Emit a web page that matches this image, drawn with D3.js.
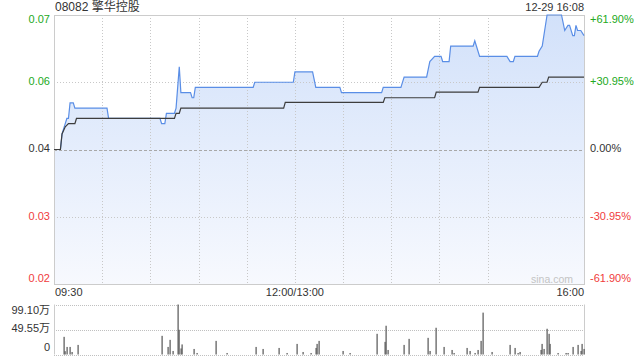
<!DOCTYPE html>
<html>
<head>
<meta charset="utf-8">
<script src="https://cdn.jsdelivr.net/npm/d3@7"></script>
<style>
  body { margin: 0; background: #fff; }
  svg { display: block; font-family: "Liberation Sans", Arial, "Noto Sans CJK SC", sans-serif; }
</style>
</head>
<body>
<svg id="chart" width="640" height="360"></svg>
<script>
const title = '08082 擎华控股';
const stamp = '12-29 16:08';
const prevClose = 0.042;
const pctLevels = [0.619, 0.3095, 0, -0.3095, -0.619];
const leftLabels = ['0.07', '0.06', '0.04', '0.03', '0.02'];
const rightLabels = ['+61.90%', '+30.95%', '0.00%', '-30.95%', '-61.90%'];
const timeLabels = ['09:30', '12:00/13:00', '16:00'];
const gridTimes = ['10:00', '10:30', '11:00', '11:30', '12:00', '13:30', '14:00', '14:30', '15:00'];
const volMax = 991000;
const volLevels = [991000, 495500, 0];
const volLabels = ['99.10万', '49.55万', '0'];

const priceTimes = ['09:30', '09:34', '09:35', '09:37', '09:38', '09:39', '09:40', '09:42', '09:43', '10:03',
  '10:04', '10:36', '10:37', '10:39', '10:40', '10:45', '10:46', '10:48', '10:49', '10:55',
  '10:56', '10:57', '10:58', '11:34', '11:35', '11:59', '12:00', '13:11', '13:13', '13:28',
  '13:29', '13:54', '13:55', '14:06', '14:08', '14:22', '14:24', '14:27', '14:31', '14:32',
  '14:36', '14:37', '14:51', '14:52', '14:53', '14:55', '15:12', '15:14', '15:16', '15:17',
  '15:31', '15:32', '15:34', '15:37', '15:46', '15:48', '15:50', '15:51', '15:53', '15:54',
  '15:55', '15:56', '15:58', '16:00'];
const priceValues = [0.042, 0.042, 0.045, 0.047, 0.048, 0.048, 0.051, 0.051, 0.050, 0.050,
  0.048, 0.048, 0.047, 0.047, 0.049, 0.049, 0.050, 0.058, 0.053, 0.053,
  0.052, 0.052, 0.054, 0.054, 0.055, 0.055, 0.057, 0.057, 0.054, 0.054,
  0.053, 0.053, 0.054, 0.054, 0.056, 0.056, 0.059, 0.060, 0.060, 0.059,
  0.059, 0.062, 0.062, 0.063, 0.062, 0.060, 0.060, 0.059, 0.059, 0.060,
  0.060, 0.061, 0.062, 0.068, 0.068, 0.065, 0.066, 0.066, 0.064, 0.064,
  0.066, 0.065, 0.065, 0.064];

const avgTimes = ['09:30', '09:34', '09:35', '09:37', '09:39', '09:43', '09:44', '10:45', '10:46', '10:48',
  '10:49', '11:53', '11:54', '13:55', '13:56', '14:27', '14:28', '14:54', '14:55', '15:32',
  '15:34', '15:37', '15:38', '16:00'];
const avgValues = [0.042, 0.042, 0.045, 0.0464, 0.047, 0.047, 0.048, 0.048, 0.049, 0.049,
  0.050, 0.050, 0.0511, 0.0511, 0.052, 0.052, 0.0531, 0.0531, 0.054, 0.054,
  0.055, 0.055, 0.056, 0.056];

const volTimes = ['09:36', '09:37', '09:38', '09:40', '09:41', '09:45', '10:37', '10:41', '10:42', '10:44',
  '10:47', '10:48', '10:49', '10:50', '10:57', '10:59', '11:11', '11:18', '11:36', '11:40',
  '11:50', '11:55', '13:01', '13:05', '13:10', '13:13', '13:14', '13:15', '13:30', '13:34',
  '13:51', '13:56', '13:57', '13:58', '14:08', '14:11', '14:23', '14:24', '14:28', '14:33',
  '14:38', '14:39', '14:47', '14:49', '14:52', '14:54', '14:56', '14:57', '15:03', '15:14',
  '15:17', '15:19', '15:20', '15:33', '15:34', '15:35', '15:37', '15:38', '15:39', '15:44',
  '15:49', '15:50', '15:53', '15:56', '15:58', '15:59', '16:00'];
const volValues = [350000, 66000, 150000, 150000, 50000, 190000, 370000, 150000, 290000, 70000,
  991000, 490000, 120000, 200000, 110000, 30000, 270000, 30000, 150000, 110000,
  130000, 30000, 210000, 50000, 30000, 130000, 210000, 270000, 70000, 30000,
  410000, 250000, 570000, 90000, 190000, 310000, 330000, 70000, 530000, 150000,
  90000, 30000, 130000, 70000, 30000, 90000, 270000, 830000, 50000, 190000,
  130000, 30000, 50000, 90000, 210000, 110000, 510000, 410000, 210000, 30000,
  30000, 30000, 150000, 190000, 70000, 210000, 110000];

const green = '#22a922', red = '#f03c3c', textColor = '#333';

// trading minutes since 09:30, lunch break removed
function minuteIndex(t) {
  const [h, m] = t.split(':').map(Number);
  const mins = h * 60 + m;
  return mins <= 720 ? mins - 570 : mins - 780 + 150;
}

const pLeft = 54, pRight = 584, pTop = 15, pBottom = 284;
const volTop = 304.5, volBottom = 354.5;

const x = d3.scaleLinear().domain([0, 330]).range([pLeft, pRight]);
const y = d3.scaleLinear()
  .domain([prevClose * (1 - pctLevels[0]), prevClose * (1 + pctLevels[0])])
  .range([pBottom, pTop]);
const yVol = d3.scaleLinear().domain([0, volMax]).range([volBottom, volTop]);

const svg = d3.select('#chart');

const grad = svg.append('defs').append('linearGradient')
  .attr('id', 'fill')
  .attr('gradientUnits', 'userSpaceOnUse')
  .attr('x1', 0).attr('y1', pTop).attr('x2', 0).attr('y2', pBottom);
grad.append('stop').attr('offset', 0).attr('stop-color', '#d2e1fa');
grad.append('stop').attr('offset', 1).attr('stop-color', '#f7f9fe');

const price = priceTimes.map((t, i) => ({ i: minuteIndex(t), v: priceValues[i] }));
const avg = avgTimes.map((t, i) => ({ i: minuteIndex(t), v: avgValues[i] }));

svg.append('path')
  .datum(price)
  .attr('fill', 'url(#fill)')
  .attr('d', d3.area().x(d => x(d.i)).y0(pBottom).y1(d => y(d.v)));

// grid
svg.selectAll('.vgrid')
  .data(gridTimes)
  .enter()
  .append('line')
  .attr('x1', d => Math.round(x(minuteIndex(d))) + 0.5)
  .attr('x2', d => Math.round(x(minuteIndex(d))) + 0.5)
  .attr('y1', pTop).attr('y2', pBottom)
  .attr('stroke', '#c8c8c8')
  .attr('stroke-dasharray', '1,2');

pctLevels.slice(1, 4).forEach(p => {
  const yy = Math.round(y(prevClose * (1 + p))) + 0.5;
  svg.append('line')
    .attr('x1', pLeft).attr('x2', pRight)
    .attr('y1', yy).attr('y2', yy)
    .attr('stroke', p === 0 ? '#a8a8a8' : '#c8c8c8')
    .attr('stroke-dasharray', p === 0 ? '3,2' : '1,2');
});

svg.append('rect')
  .attr('x', pLeft + 0.5).attr('y', pTop + 0.5)
  .attr('width', pRight - pLeft).attr('height', pBottom - pTop)
  .attr('fill', 'none')
  .attr('stroke', '#cccccc');

svg.append('path')
  .datum(price)
  .attr('fill', 'none')
  .attr('stroke', '#5a8ee6')
  .attr('stroke-width', 1.2)
  .attr('d', d3.line().x(d => x(d.i)).y(d => y(d.v)));

svg.append('path')
  .datum(avg)
  .attr('fill', 'none')
  .attr('stroke', '#3d3d3d')
  .attr('stroke-width', 1.2)
  .attr('d', d3.line().x(d => x(d.i)).y(d => y(d.v)));

// price labels
const clampY = (v, pad, lo, hi) => Math.max(lo + pad, Math.min(hi - pad, v));
const labelColor = p => p > 0 ? green : p < 0 ? red : textColor;

svg.selectAll('.lab-left')
  .data(pctLevels)
  .enter()
  .append('text')
  .attr('x', 50)
  .attr('y', d => clampY(y(prevClose * (1 + d)), 5, pTop, pBottom))
  .attr('text-anchor', 'end')
  .attr('dominant-baseline', 'middle')
  .attr('font-size', 11)
  .attr('fill', labelColor)
  .text((d, i) => leftLabels[i]);

svg.selectAll('.lab-right')
  .data(pctLevels)
  .enter()
  .append('text')
  .attr('x', 590)
  .attr('y', d => clampY(y(prevClose * (1 + d)), 5, pTop, pBottom))
  .attr('dominant-baseline', 'middle')
  .attr('font-size', 11)
  .attr('fill', labelColor)
  .text((d, i) => rightLabels[i]);

svg.append('text')
  .attr('x', 55).attr('y', 8)
  .attr('dominant-baseline', 'middle')
  .attr('font-size', 12)
  .attr('fill', textColor)
  .text(title);

svg.append('text')
  .attr('x', pRight).attr('y', 8)
  .attr('text-anchor', 'end')
  .attr('dominant-baseline', 'middle')
  .attr('font-size', 11)
  .attr('fill', textColor)
  .text(stamp);

svg.append('text')
  .attr('x', 573).attr('y', 280)
  .attr('text-anchor', 'end')
  .attr('dominant-baseline', 'middle')
  .attr('font-size', 10.5)
  .attr('fill', '#c4c4c4')
  .text('sina.com');

// time axis
const timeAnchor = ['start', 'middle', 'end'];
const timePos = [0, 150, 330];
svg.selectAll('.tlab')
  .data(timeLabels)
  .enter()
  .append('text')
  .attr('x', (d, i) => x(timePos[i]) + (i === 0 ? 1 : 0))
  .attr('y', 293)
  .attr('text-anchor', (d, i) => timeAnchor[i])
  .attr('dominant-baseline', 'middle')
  .attr('font-size', 11)
  .attr('fill', textColor)
  .text(d => d);

// volume panel
volLevels.forEach(v => {
  const yy = Math.round(yVol(v)) + 0.5;
  svg.append('line')
    .attr('x1', pLeft).attr('x2', pRight)
    .attr('y1', yy).attr('y2', yy)
    .attr('stroke', '#c0c0c0')
    .attr('stroke-dasharray', '1,1');
});

[pLeft, pRight].forEach(xx => {
  svg.append('line')
    .attr('x1', xx + 0.5).attr('x2', xx + 0.5)
    .attr('y1', volTop).attr('y2', volBottom)
    .attr('stroke', '#cccccc');
});

svg.selectAll('.vol')
  .data(volTimes)
  .enter()
  .append('rect')
  .attr('x', d => Math.round(x(minuteIndex(d))) - 0.5)
  .attr('width', 1.2)
  .attr('y', (d, i) => yVol(volValues[i]))
  .attr('height', (d, i) => volBottom - yVol(volValues[i]))
  .attr('fill', '#555');

svg.selectAll('.vlab')
  .data(volLevels)
  .enter()
  .append('text')
  .attr('x', 50)
  .attr('y', d => clampY(yVol(d), 6.5, volTop, volBottom))
  .attr('text-anchor', 'end')
  .attr('dominant-baseline', 'middle')
  .attr('font-size', 11)
  .attr('fill', textColor)
  .text((d, i) => volLabels[i]);
</script>
</body>
</html>
